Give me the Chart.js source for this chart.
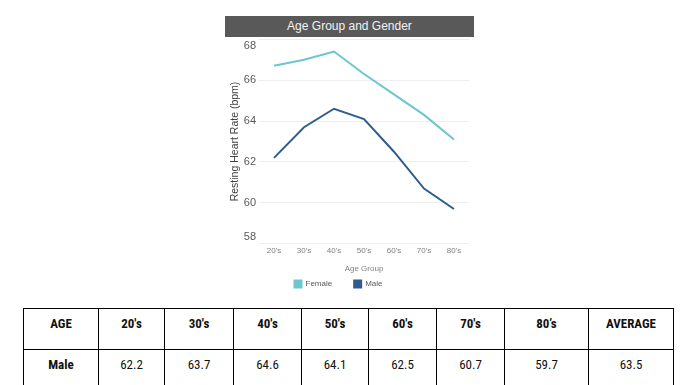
<!DOCTYPE html>
<html>
<head>
<meta charset="utf-8">
<script src="https://cdn.jsdelivr.net/npm/chart.js@4.4.1/dist/chart.umd.min.js"></script>
<style>
  body { margin: 0; background: #fff; width: 696px; height: 385px; overflow: hidden; position: relative; }
  #chartTitle {
    position: absolute; left: 225px; top: 16px; width: 249px; height: 21px;
    background: #595959; color: #f2f2f2; z-index: 2;
    font: 12px "Liberation Sans", Arial, sans-serif; line-height: 21px; text-align: center;
  }
  #chartBox { position: absolute; left: 220px; top: 23px; width: 260px; height: 277px; }
  #dataTable {
    position: absolute; left: 23px; top: 308px; width: 650px; border-collapse: collapse; table-layout: fixed;
    font: 13px "Liberation Sans Narrow", "Arial Narrow", "Roboto Condensed", sans-serif; color: #111;
  }
  #dataTable td { border: 1px solid #000; text-align: center; vertical-align: middle; padding: 0 0 11px 0; }
  #dataTable tr { height: 41px; }
  #dataTable tr.head td, #dataTable td:first-child { font-weight: bold; }
</style>
</head>
<body>
<div id="chartTitle">Age Group and Gender</div>
<div id="chartBox"><canvas id="myChart"></canvas></div>
<table id="dataTable"></table>
<script>
// values
const ageGroups = ["20's", "30's", "40's", "50's", "60's", "70's", "80's"];
const femaleRate = [66.7, 67.0, 67.4, 66.3, 65.3, 64.3, 63.1];
const maleRate = [62.2, 63.7, 64.6, 64.1, 62.5, 60.7, 59.7];
const maleAverage = 63.5;
const yTicks = [58, 60, 62, 64, 66, 68];
const colWidths = [75, 66, 69, 68, 67, 68, 68, 84, 85];

// table under the chart
function buildTable() {
    const table = document.getElementById('dataTable');
    const colgroup = document.createElement('colgroup');
    colWidths.forEach(w => {
        const col = document.createElement('col');
        col.style.width = w + 'px';
        colgroup.appendChild(col);
    });
    table.appendChild(colgroup);
    const headers = ['AGE'].concat(ageGroups.map(a => a.replace("80's", "80\u2019s")), ['AVERAGE']);
    const values = ['Male'].concat(maleRate.map(v => v.toFixed(1)), [maleAverage.toFixed(1)]);
    [headers, values].forEach((row, r) => {
        const tr = document.createElement('tr');
        if (r === 0) tr.className = 'head';
        row.forEach(txt => {
            const td = document.createElement('td');
            td.textContent = txt;
            tr.appendChild(td);
        });
        table.appendChild(tr);
    });
}

function plotChart(canvasId) {
    const ctx = document.getElementById(canvasId).getContext('2d');
    Chart.defaults.font.family = '"Liberation Sans", Arial, sans-serif';
    window[canvasId] = new Chart(ctx, {
        type: 'line',
        data: {
            labels: ageGroups,
            datasets: [{
                label: 'Female',
                data: femaleRate,
                borderColor: '#6cc6cf',
                backgroundColor: '#6cc6cf',
                borderWidth: 2,
                pointRadius: 0,
                tension: 0
            }, {
                label: 'Male',
                data: maleRate,
                borderColor: '#2f5d8c',
                backgroundColor: '#2f5d8c',
                borderWidth: 2,
                pointRadius: 0,
                tension: 0
            }]
        },
        options: {
            responsive: true,
            maintainAspectRatio: false,
            animation: false,
            layout: {
                padding: { left: 0, right: 11, top: 2, bottom: 2 }
            },
            plugins: {
                tooltip: { enabled: false },
                legend: {
                    position: 'bottom',
                    labels: {
                        boxWidth: 7,
                        boxHeight: 7,
                        padding: 6,
                        color: '#595959',
                        font: { size: 8 },
                        // widen the gap between the two entries like the original
                        generateLabels: chart => {
                            const items = Chart.defaults.plugins.legend.labels.generateLabels(chart);
                            items[0].text += '\u2002\u2002\u2002\u2002';
                            items[1].text += '\u2002\u2002\u2002';
                            return items;
                        }
                    }
                }
            },
            scales: {
                x: {
                    offset: true,
                    grid: { display: false, drawTicks: false },
                    border: { display: false },
                    ticks: { color: '#7f7f7f', font: { size: 8 }, maxRotation: 0, padding: 2 },
                    title: {
                        display: true, text: 'Age Group', color: '#7f7f7f',
                        font: { size: 8 }, padding: { top: 7, bottom: 0 }
                    }
                },
                y: {
                    min: 58,
                    max: 68,
                    afterBuildTicks: scale => { scale.ticks = yTicks.map(v => ({ value: v })); },
                    afterFit: scale => { scale.width = 39; },
                    grid: { color: '#eeeeee', drawTicks: false },
                    border: { display: false },
                    ticks: {
                        color: '#595959', font: { size: 11 }, padding: 3,
                        // end labels sit just inside the plot, as in the original
                        callback: value => {
                            if (value === yTicks[yTicks.length - 1]) return ['', String(value)];
                            if (value === yTicks[0]) return [String(value), ''];
                            return String(value);
                        }
                    },
                    title: {
                        display: true, text: 'Resting Heart Rate (bpm)', color: '#404040',
                        font: { size: 10.5 }, padding: { top: 9, bottom: 0 }
                    }
                }
            }
        }
    });
}

buildTable();
plotChart('myChart');
</script>
</body>
</html>
